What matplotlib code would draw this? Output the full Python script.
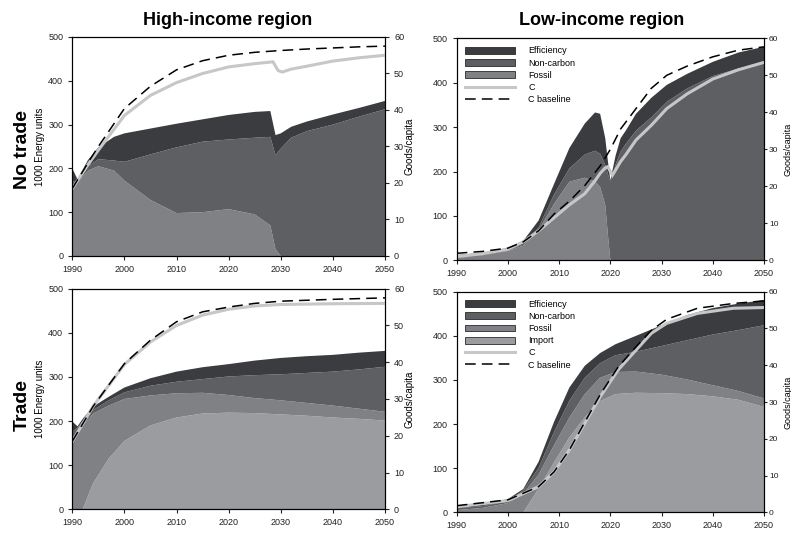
import numpy as np
import matplotlib
matplotlib.use("Agg")
import matplotlib.pyplot as plt
from matplotlib.patches import Patch
from matplotlib.lines import Line2D

plt.rcParams['font.family'] = ['Liberation Sans', 'DejaVu Sans']

# layer colours
col_eff = '#3b3c40'
col_nc = '#5e5f63'
col_fos = '#7f8185'
col_imp = '#9a9c9f'
col_c = '#c6c7c8'

# ---- high-income, no trade ----
hi_nt_years = [1990, 1991, 1993, 1995, 1998, 2000, 2005, 2010, 2015, 2020, 2025,
               2028, 2029, 2030, 2032, 2035, 2040, 2045, 2050]
hi_nt_fossil = [160, 168, 195, 205, 195, 172, 128, 98, 100, 107, 95, 70, 15, 0, 0, 0, 0, 0, 0]
hi_nt_noncarbon = [10, 4, 10, 16, 23, 43, 104, 150, 161, 159, 175, 202, 215, 245, 270, 285, 300, 318, 335]
hi_nt_efficiency = [30, 3, 14, 27, 54, 65, 59, 54, 51, 56, 59, 59, 46, 35, 25, 22, 23, 20, 19]
hi_nt_c_years = [1990, 1993, 1995, 2000, 2005, 2010, 2015, 2020, 2025, 2028.5, 2029.5,
                 2030.3, 2032, 2035, 2040, 2045, 2050]
hi_nt_c = [18.5, 25, 29, 38.5, 44, 47.5, 50, 51.8, 52.7, 53.2, 50.8, 50.4, 51.2, 52, 53.4, 54.3, 55]
hi_nt_base_years = [1990, 1993, 1995, 2000, 2005, 2010, 2015, 2020, 2025, 2030, 2035, 2040, 2045, 2050]
hi_nt_base = [18.5, 25.5, 30, 40.4, 46.5, 51, 53.5, 55, 55.8, 56.3, 56.7, 57, 57.3, 57.5]

# ---- low-income, no trade ----
lo_nt_years = [1990, 1995, 2000, 2003, 2006, 2009, 2012, 2015, 2017, 2018, 2019, 2019.5,
               2020, 2021, 2022, 2023, 2025, 2028, 2031, 2035, 2040, 2045, 2050]
lo_nt_fossil = [8, 11, 21, 33, 68, 127, 177, 186, 178, 165, 125, 60, 0, 0, 0, 0, 0, 0, 0, 0, 0, 0, 0]
lo_nt_noncarbon = [1, 1, 1, 3, 6, 21, 30, 52, 69, 75, 90, 135, 177, 215, 245, 262, 292, 322, 357, 387, 415, 432, 444]
lo_nt_efficiency = [3, 5, 6, 8, 16, 24, 46, 70, 86, 90, 60, 30, 3, 20, 30, 30, 38, 44, 38, 33, 32, 36, 37]
lo_nt_c_years = [1990, 1995, 2000, 2003, 2006, 2009, 2012, 2015, 2017, 2018, 2019, 2019.5,
                 2020.4, 2022, 2023, 2025, 2028, 2031, 2035, 2040, 2045, 2050]
lo_nt_c = [1, 1.8, 3, 5, 8, 11.5, 15, 18, 21.5, 23.5, 25, 25.3, 23, 26.7, 28.5, 32.5, 36.5, 41, 45, 49, 51.5, 53.5]
lo_nt_base_years = [1990, 1995, 2000, 2003, 2006, 2009, 2012, 2015, 2018, 2020, 2022, 2025,
                    2028, 2031, 2035, 2040, 2045, 2050]
lo_nt_base = [1.9, 2.4, 3.3, 5, 8, 12.5, 16, 20.2, 25.5, 30, 35.5, 41, 46.5, 50, 52.5, 55, 56.8, 57.7]

# ---- high-income, trade ----
hi_tr_years = [1990, 1991, 1992, 1994, 1997, 2000, 2005, 2010, 2015, 2020, 2025, 2030, 2035, 2040, 2045, 2050]
hi_tr_import = [0, 0, 0, 59, 115, 155, 190, 208, 217, 219, 218, 215, 212, 208, 205, 201]
hi_tr_fossil = [156, 170, 190, 158, 120, 95, 68, 55, 47, 40, 34, 32, 29, 27, 23, 20]
hi_tr_noncarbon = [20, 15, 10, 8, 12, 15, 22, 26, 31, 42, 52, 59, 68, 77, 89, 102]
hi_tr_efficiency = [23, 3, 5, 8, 8, 11, 17, 23, 27, 28, 33, 37, 38, 38, 38, 36]
hi_tr_c_years = [1990, 1994, 2000, 2005, 2010, 2015, 2020, 2025, 2030, 2040, 2050]
hi_tr_c = [18.5, 28, 39.4, 45.5, 50, 52.8, 54.4, 55.3, 55.7, 55.9, 56]
hi_tr_base = [18.5, 28, 39.6, 46, 51, 53.7, 55, 56, 56.6, 57.1, 57.5]

# ---- low-income, trade ----
lo_tr_years = [1990, 1995, 2000, 2003, 2006, 2009, 2012, 2015, 2018, 2021, 2025, 2030, 2035, 2040, 2045, 2050]
lo_tr_import = [0, 0, 0, 0, 54, 113, 170, 215, 252, 268, 271, 270, 268, 263, 255, 239]
lo_tr_fossil = [5, 10, 21, 42, 32, 39, 45, 53, 53, 50, 48, 42, 33, 25, 20, 19]
lo_tr_noncarbon = [4, 4, 4, 8, 15, 30, 38, 37, 33, 38, 45, 65, 89, 115, 138, 166]
lo_tr_efficiency = [5, 5, 5, 3, 14, 23, 30, 27, 23, 25, 36, 47, 57, 60, 60, 57]
lo_tr_c_years = [1990, 2000, 2006, 2009, 2012, 2015, 2018, 2021.5, 2025, 2028, 2031, 2037, 2044, 2050]
lo_tr_c = [1.5, 3.2, 7, 11, 17, 24.2, 31.4, 38.7, 44.1, 48.7, 51.4, 54.1, 55.5, 55.7]
lo_tr_base = [1.8, 3.4, 7, 11, 17, 24.5, 32, 39.5, 45, 49.5, 52.5, 55.5, 56.8, 57.5]

year_ticks = [1990, 2000, 2010, 2020, 2030, 2040, 2050]

fig = plt.figure(figsize=(7.91, 5.33), dpi=100)

positions = {
    'tl': [0.0914, 0.5197, 0.3953, 0.4109],
    'tr': [0.5774, 0.5116, 0.3885, 0.4165],
    'bl': [0.0914, 0.0445, 0.3953, 0.4139],
    'br': [0.5774, 0.0388, 0.3885, 0.4139],
}


def panel(pos, years, layers, colors, c_years, c, base_years, base,
          legend_labels=None, right_edge=False):
    ax = fig.add_axes(pos)
    ax.stackplot(years, layers, colors=colors, linewidth=0)
    ax.set_xlim(1990, 2050)
    ax.set_ylim(0, 500)
    ax.set_xticks(year_ticks)
    ax.set_yticks(range(0, 501, 100))
    ax.tick_params(labelsize=6.5, length=3, width=0.8, colors='#222222')
    ax2 = ax.twinx()
    ax2.plot(c_years, c, color=col_c, lw=2.2, solid_joinstyle='miter')
    ax2.plot(base_years, base, color='black', lw=1.1, dashes=(7, 4))
    ax2.set_ylim(0, 60)
    ax2.set_yticks(range(0, 61, 10))
    if right_edge:
        # figure edge is close, so everything sits tight to the spine
        ax2.tick_params(labelsize=6, length=2, width=0.8, pad=1.5, colors='#222222')
        ax2.set_ylabel('Goods/capita', fontsize=6.5)
        ax2.yaxis.set_label_coords(1.062, 0.5)
    else:
        ax2.tick_params(labelsize=6.5, length=3, width=0.8, colors='#222222')
        ax2.set_ylabel('Goods/capita', fontsize=7)
        ax2.yaxis.set_label_coords(1.064, 0.5)
    for a in (ax, ax2):
        for s in a.spines.values():
            s.set_linewidth(0.8)
    if legend_labels:
        handles = [Patch(facecolor=colors[i], edgecolor='#2a2a2a', lw=0.6)
                   for i in range(len(colors) - 1, -1, -1)]
        handles += [Line2D([], [], color=col_c, lw=2.2),
                    Line2D([], [], color='black', lw=1.1, dashes=(7, 4))]
        ax2.legend(handles, legend_labels, loc='upper left', frameon=False,
                   fontsize=6.5, handlelength=5.5, handleheight=0.8,
                   labelspacing=0.35, borderaxespad=0.5, handletextpad=1.5)
    return ax, ax2


ax_tl, _ = panel(positions['tl'], hi_nt_years,
                 [hi_nt_fossil, hi_nt_noncarbon, hi_nt_efficiency],
                 [col_fos, col_nc, col_eff],
                 hi_nt_c_years, hi_nt_c, hi_nt_base_years, hi_nt_base)
panel(positions['tr'], lo_nt_years,
      [lo_nt_fossil, lo_nt_noncarbon, lo_nt_efficiency],
      [col_fos, col_nc, col_eff],
      lo_nt_c_years, lo_nt_c, lo_nt_base_years, lo_nt_base,
      legend_labels=['Efficiency', 'Non-carbon', 'Fossil', 'C', 'C baseline'],
      right_edge=True)
ax_bl, _ = panel(positions['bl'], hi_tr_years,
                 [hi_tr_import, hi_tr_fossil, hi_tr_noncarbon, hi_tr_efficiency],
                 [col_imp, col_fos, col_nc, col_eff],
                 hi_tr_c_years, hi_tr_c, hi_tr_c_years, hi_tr_base)
panel(positions['br'], lo_tr_years,
      [lo_tr_import, lo_tr_fossil, lo_tr_noncarbon, lo_tr_efficiency],
      [col_imp, col_fos, col_nc, col_eff],
      lo_tr_c_years, lo_tr_c, lo_tr_c_years, lo_tr_base,
      legend_labels=['Efficiency', 'Non-carbon', 'Fossil', 'Import', 'C', 'C baseline'],
      right_edge=True)

for ax in (ax_tl, ax_bl):
    ax.set_ylabel('1000 Energy units', fontsize=7, labelpad=2)

fig.text(0.288, 0.962, 'High-income region', ha='center', va='center',
         fontsize=13, fontweight='bold')
fig.text(0.76, 0.962, 'Low-income region', ha='center', va='center',
         fontsize=13, fontweight='bold')
fig.text(0.028, 0.72, 'No trade', ha='center', va='center', rotation=90,
         fontsize=14, fontweight='bold')
fig.text(0.028, 0.24, 'Trade', ha='center', va='center', rotation=90,
         fontsize=14, fontweight='bold')

fig.savefig('out.png', dpi=100)
